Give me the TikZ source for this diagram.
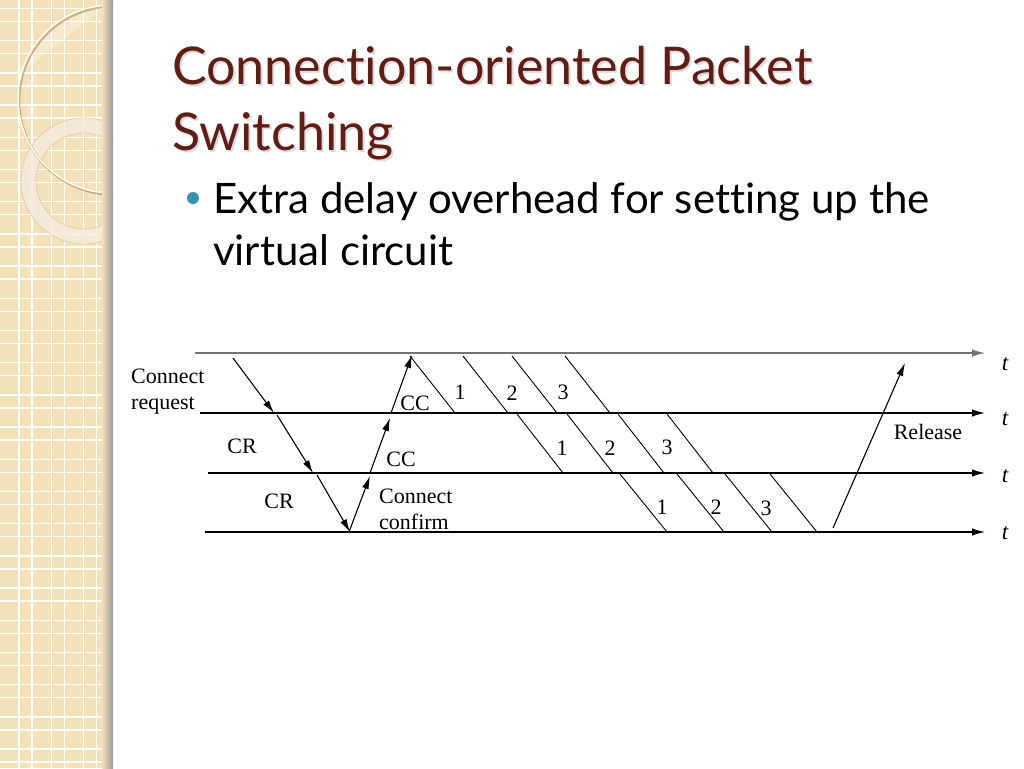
\documentclass[tikz,border=0pt]{standalone}
\usepackage{fontspec}
\setmainfont{Liberation Serif}
\newfontfamily\slidefont[Ligatures=NoCommon]{Lato}
\usetikzlibrary{arrows.meta}

\definecolor{sidebeige}{RGB}{243,225,186}
\definecolor{titlebrown}{RGB}{94,30,22}
\definecolor{bulletteal}{RGB}{52,146,176}

\tikzset{
    timeline/.style={line width=1.3pt, -{Latex[length=13pt,width=7.5pt]}},
    msg/.style={line width=1.1pt, -{Latex[length=13pt,width=7pt]}},
    pkt/.style={line width=0.9pt},
    lbl/.style={font=\fontsize{22}{26}\selectfont, inner sep=0pt},
    tlbl/.style={font=\fontsize{23}{24}\selectfont\itshape, inner sep=0pt},
    slidetext/.style={anchor=base west, inner sep=0pt, font=\slidefont\fontsize{42}{48}\selectfont},
    slidetitle/.style={anchor=base west, inner sep=0pt, font=\slidefont\fontsize{52}{60}\selectfont}
}

\begin{document}
\begin{tikzpicture}[x=1pt, y=-1pt]
    \useasboundingbox (0,0) rectangle (1024,768);
    \fill[white] (0,0) rectangle (1024,768);

    % Sidebar
    \begin{scope}
        \clip (0,0) rectangle (113,768);
        \fill[sidebeige] (0,0) rectangle (113,768);
        \foreach \k in {-1,...,3} {
            \draw[white, line width=1.3pt] ({19+32.2*\k},0) -- ({19+32.2*\k},768);
            \draw[white, line width=1.3pt] ({32+32.2*\k},0) -- ({32+32.2*\k},768);
        }
        \foreach \k in {-1,...,23} {
            \draw[white, line width=1.3pt] (0,{8.5+32.2*\k}) -- (113,{8.5+32.2*\k});
            \draw[white, line width=1.3pt] (0,{21.5+32.2*\k}) -- (113,{21.5+32.2*\k});
        }
        % lighter part of the big circle
        \begin{scope}
            \clip (112,99) circle (94pt);
            \fill[white, opacity=0.3] (0,0) -- (113,0) -- (0,90) -- cycle;
        \end{scope}
        % ring
        \fill[black!8!sidebeige!40!white, opacity=0.8, even odd rule] (84,181) circle (63pt) (84,181) circle (48pt);
        \draw[brown!45, line width=0.6pt] (84,181) circle (63pt) (84,181) circle (48pt);
        % big circle
        \draw[brown!60!gray, line width=2.5pt, opacity=0.55] (113,100.5) circle (94pt);
        \draw[white!90!yellow, line width=1.6pt] (112,99) circle (94pt);
        % shadow at the edge
        \shade[left color=sidebeige, right color=black!40] (102,0) rectangle (113,768);
    \end{scope}

    % Title and bullet
    \node[slidetitle, text=black!30, opacity=0.45] (title1s) at (174,86) {Connection-oriented Packet};
    \node[slidetitle, text=black!30, opacity=0.45] (title2s) at (174,152) {Switching};
    \node[slidetitle, text=titlebrown] (title1) at (172,84) {Connection-oriented Packet};
    \node[slidetitle, text=titlebrown] (title2) at (172,150) {Switching};
    \fill[bulletteal] (193,198) circle (6pt);
    \node[slidetext] (bul1) at (213,213) {Extra delay overhead for setting up the};
    \node[slidetext] (bul2) at (213,265) {virtual circuit};

    % Time lines
    \coordinate (s1) at (195,353); \coordinate (e1) at (985,353);
    \coordinate (s2) at (200,413); \coordinate (e2) at (985,413);
    \coordinate (s3) at (208,473); \coordinate (e3) at (985,473);
    \coordinate (s4) at (205,532); \coordinate (e4) at (985,532);
    \draw[timeline, black!55] (s1) -- (e1);
    \draw[timeline] (s2) -- (e2);
    \draw[timeline] (s3) -- (e3);
    \draw[timeline] (s4) -- (e4);
    \node[tlbl] (t1) at (1005,364) {t};
    \node[tlbl] (t2) at (1005,419) {t};
    \node[tlbl] (t3) at (1005,476) {t};
    \node[tlbl] (t4) at (1005,533) {t};

    % Connect request, going down
    \coordinate (a0) at (233,358); \coordinate (b0) at (274,413);
    \coordinate (b1) at (277,415); \coordinate (c0) at (313,473);
    \coordinate (c1) at (317,475); \coordinate (d0) at (350,532);
    \draw[msg] (a0) -- (b0);
    \draw[msg] (b1) -- (c0);
    \draw[msg] (c1) -- (d0);
    \node[lbl, anchor=west, align=left] (req) at (131,392) {Connect\\request};
    \node[lbl] (cr1) at (242,446) {CR};
    \node[lbl] (cr2) at (279,501) {CR};

    % Connect confirm, going up
    \coordinate (d1) at (349,532); \coordinate (c2) at (370,476);
    \coordinate (c3) at (370,473); \coordinate (b2) at (390,418);
    \coordinate (b3) at (391,413); \coordinate (a1) at (412,355);
    \draw[msg] (d1) -- (c2);
    \draw[msg] (c3) -- (b2);
    \draw[msg] (b3) -- (a1);
    \node[lbl] (cc1) at (415,403) {CC};
    \node[lbl] (cc2) at (401,459) {CC};
    \node[lbl, anchor=west, align=left] (conf) at (379,509) {Connect\\confirm};

    % Packets 1, 2, 3
    \foreach \x in {410,463,512,565} \draw[pkt] (\x,356) -- ++(45,57);
    \foreach \x in {517,567,618,667} \draw[pkt] (\x,414) -- ++(46,59);
    \foreach \x in {620,677,725,770} \draw[pkt] (\x,474) -- ++(47,58);
    \foreach \x/\y/\n in {460/392/1, 512/393/2, 563/392/3,
                          562/448/1, 610/448/2, 667/447/3,
                          662/507/1, 716/507/2, 766/508/3}
        \node[lbl] (p\n-\x) at (\x,\y) {\n};

    % Release
    \coordinate (d2) at (833,528); \coordinate (a2) at (905,363);
    \draw[msg] (d2) -- (a2);
    \node[lbl] (rel) at (928,432) {Release};
\end{tikzpicture}
\end{document}
